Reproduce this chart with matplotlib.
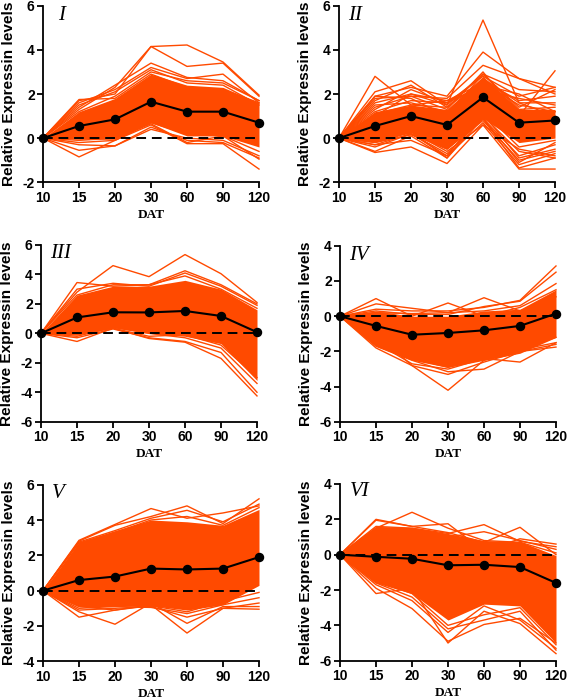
import matplotlib
matplotlib.use("Agg")
import matplotlib.pyplot as plt

dat_labels = ["10", "15", "20", "30", "60", "90", "120"]
orange = "#FF4A00"

# mean profile, dense core limits and the stray lines
mean_1 = [0, 0.55, 0.85, 1.65, 1.2, 1.2, 0.7]
hi_1 = [0, 1.2, 1.8, 2.9, 2.4, 2.3, 1.6]
lo_1 = [0, -0.05, -0.05, 0.7, 0.1, 0.1, -0.4]
lines_1 = [
    [0, 1.3, 2.3, 4.15, 4.22, 3.45, 1.95],
    [0, 1.7, 2.0, 4.15, 3.25, 3.4, 1.9],
    [0, 1.4, 2.4, 3.4, 2.75, 2.6, 1.7],
    [0, 1.6, 2.2, 3.2, 2.7, 2.9, 1.6],
    [0, 1.2, 1.9, 3.0, 2.6, 2.5, 1.7],
    [0, 1.5, 2.1, 3.1, 2.5, 2.4, 1.5],
    [0, 1.75, 1.8, 2.9, 2.3, 2.2, 1.6],
    [0, -0.85, -0.1, 0.6, -0.25, -0.25, -1.4],
    [0, -0.55, -0.35, 0.5, -0.1, -0.2, -0.9],
    [0, -0.3, -0.35, 0.4, 0.0, -0.1, -0.8],
    [0, -0.2, -0.1, 0.7, 0.2, 0.1, -0.6],
    [0, -0.1, 0.0, 0.65, -0.2, 0.1, -0.95],
]

mean_2 = [0, 0.55, 1.0, 0.6, 1.85, 0.7, 0.8]
hi_2 = [0, 1.2, 1.5, 1.3, 2.8, 1.3, 1.3]
lo_2 = [0, -0.2, 0.25, -0.5, 0.9, -0.2, 0.0]
lines_2 = [
    [0, 2.8, 1.5, 1.7, 2.5, 1.5, 1.2],
    [0, 2.1, 2.6, 1.5, 5.35, 1.6, 1.0],
    [0, 1.9, 2.3, 1.9, 3.9, 2.7, 2.0],
    [0, 1.8, 1.9, 1.8, 3.3, 2.7, 2.3],
    [0, 1.6, 2.0, 1.5, 2.9, 2.2, 2.1],
    [0, 1.4, 1.9, 1.3, 3.0, 1.0, 3.05],
    [0, 1.2, 1.7, 1.6, 2.8, 1.9, 2.3],
    [0, 1.5, 1.6, 1.2, 2.7, 1.6, 1.6],
    [0, 1.1, 1.5, 1.4, 2.9, 1.3, 1.4],
    [0, 1.7, 2.4, 1.4, 2.6, 1.7, 1.9],
    [0, 1.3, 2.2, 1.6, 2.4, 2.0, 1.2],
    [0, 1.9, 1.8, 1.0, 2.9, 1.4, 2.2],
    [0, 1.0, 2.0, 1.7, 2.2, 1.8, 1.5],
    [0, -0.65, -0.4, -1.15, 0.6, -1.4, -1.4],
    [0, -0.6, 0.1, -0.9, 0.9, -1.35, -0.9],
    [0, -0.3, -0.1, -0.8, 0.7, -1.2, -0.7],
    [0, -0.4, 0.2, -0.5, 0.8, -1.0, -0.6],
    [0, -0.2, 0.15, -0.4, 0.9, -0.8, -0.3],
    [0, 0.1, 0.3, -0.6, 0.6, -0.5, -0.8],
    [0, 0.2, 0.2, -0.7, 0.9, -1.1, -0.2],
    [0, -0.1, 0.3, -0.9, 1.1, -0.9, -0.5],
    [0, 0.0, 0.4, -0.3, 1.0, -0.6, -0.9],
    [0, -0.3, 0.2, -0.8, 1.2, -0.4, -0.1],
]

mean_3 = [0, 1.08, 1.43, 1.42, 1.52, 1.18, 0.08]
hi_3 = [0, 2.6, 3.2, 3.2, 3.6, 3.0, 1.6]
lo_3 = [0, -0.1, 0.4, 0.0, -0.2, -0.7, -3.2]
lines_3 = [
    [0, 2.8, 4.6, 3.85, 5.35, 4.05, 2.1],
    [0, 3.45, 3.2, 3.3, 4.25, 3.3, 2.0],
    [0, 3.0, 3.4, 3.2, 4.1, 3.2, 1.9],
    [0, 2.6, 3.3, 3.3, 3.9, 3.0, 1.7],
    [0, -0.55, 0.35, -0.35, -0.6, -1.7, -4.25],
    [0, -0.3, 0.3, -0.3, -0.55, -1.3, -4.0],
    [0, -0.2, 0.4, 0.0, -0.3, -1.0, -3.4],
    [0, -0.1, 0.35, -0.2, -0.1, -0.8, -3.0],
]

mean_4 = [0, -0.55, -1.05, -0.95, -0.8, -0.55, 0.15]
hi_4 = [0, 0.3, 0.0, 0.0, 0.3, 0.4, 1.5]
lo_4 = [0, -1.7, -2.5, -2.9, -2.5, -2.1, -1.2]
lines_4 = [
    [0, 1.0, 0.0, 0.75, 0.0, 0.5, 1.5],
    [0, 0.7, 0.45, 0.2, 1.05, 0.3, 1.1],
    [0, 0.4, 0.3, 0.3, 0.5, 0.9, 2.85],
    [0, 0.3, 0.1, 0.1, 0.55, 0.85, 2.5],
    [0, 0.2, 0.15, 0.2, 0.3, 0.6, 1.85],
    [0, -1.0, -2.8, -4.2, -2.5, -1.9, -1.5],
    [0, -1.8, -2.8, -3.3, -2.6, -2.0, -1.75],
    [0, -1.7, -2.5, -3.15, -3.0, -2.0, -1.6],
    [0, -1.5, -2.7, -3.0, -2.4, -2.6, -1.5],
    [0, -1.6, -2.4, -2.9, -2.3, -1.9, -1.2],
]

mean_5 = [0, 0.6, 0.8, 1.25, 1.2, 1.25, 1.9]
hi_5 = [0, 2.75, 3.4, 4.0, 3.9, 3.7, 4.6]
lo_5 = [0, -0.9, -0.9, -0.85, -1.1, -0.8, 0.3]
lines_5 = [
    [0, 2.85, 3.75, 4.65, 4.1, 4.4, 4.8],
    [0, 2.8, 3.7, 4.2, 4.8, 3.8, 5.2],
    [0, 2.75, 3.4, 4.1, 4.55, 3.9, 4.9],
    [0, 2.7, 3.3, 4.0, 4.2, 3.7, 4.7],
    [0, -1.5, -1.1, -0.8, -2.4, -1.0, -1.05],
    [0, -1.2, -1.9, -0.7, -1.85, -0.9, -0.9],
    [0, -1.1, -1.0, -0.9, -1.5, -1.0, -0.7],
    [0, -1.0, -0.9, -0.95, -1.3, -0.8, -0.4],
    [0, -0.9, -1.1, -0.85, -1.2, -0.6, -0.1],
]

mean_6 = [0, -0.12, -0.23, -0.6, -0.57, -0.7, -1.6]
hi_6 = [0, 1.6, 1.55, 1.2, 0.8, 0.75, -0.05]
lo_6 = [0, -1.6, -2.2, -3.7, -2.8, -2.9, -5.0]
lines_6 = [
    [0, 1.5, 2.4, 1.5, 0.8, 0.7, 0.1],
    [0, 2.0, 1.6, 1.25, 0.7, 1.55, 0.0],
    [0, 1.95, 1.6, 1.75, 0.2, 0.9, 0.6],
    [0, 1.6, 1.5, 1.2, 1.7, 0.75, 0.45],
    [0, 1.5, 1.4, 1.0, 1.3, 0.8, 0.3],
    [0, -2.2, -1.9, -5.0, -3.2, -3.9, -5.6],
    [0, -1.9, -3.05, -4.9, -3.95, -3.6, -5.0],
    [0, -1.7, -2.6, -4.4, -2.9, -3.7, -5.3],
    [0, -1.6, -2.4, -4.2, -3.7, -3.2, -5.4],
    [0, -1.5, -2.2, -4.0, -3.4, -3.0, -5.1],
]

W, H = 567, 699
fig = plt.figure(figsize=(W / 100, H / 100), dpi=100)
plt.rcParams['font.family'] = 'Liberation Sans'


def panel(left, right, top, bottom, ymin, ymax, name, name_x, name_y, ylab_x,
          mean, hi, lo, lines):
    ax = fig.add_axes([left / W, 1 - bottom / H, (right - left) / W, (bottom - top) / H])
    x = list(range(7))
    ax.fill_between(x, lo, hi, color=orange, lw=0)
    for ln in lines:
        ax.plot(x, ln, color=orange, lw=1.0, clip_on=False)
    ax.plot([0, 6], [0, 0], color="black", lw=1.4, dashes=(5, 3), zorder=4)
    ax.plot(x, mean, color="black", lw=1.5, marker="o", ms=5.8, clip_on=False, zorder=5)
    ax.set_xlim(0, 6)
    ax.set_ylim(ymin, ymax)
    ax.set_xticks(x)
    ax.set_xticklabels(dat_labels, fontsize=10, fontweight="bold", family="Liberation Sans")
    ax.set_yticks(range(ymin, ymax + 1, 2))
    ax.set_yticklabels([str(v) for v in range(ymin, ymax + 1, 2)], fontsize=10,
                       fontweight="bold", family="Liberation Sans")
    ax.tick_params(length=4, width=1.3, pad=2)
    ax.spines["top"].set_visible(False)
    ax.spines["right"].set_visible(False)
    ax.spines["left"].set_linewidth(1.3)
    ax.spines["bottom"].set_linewidth(1.3)
    ax.set_xlabel("DAT", fontsize=9.5, fontweight="bold", family="Liberation Serif", labelpad=3)
    fig.text(ylab_x / W, 1 - (top + bottom) / 2 / H, "Relative Expressin levels", rotation=90,
             fontsize=11.1, fontweight="bold", ha="center", va="center", family="Liberation Sans")
    fig.text(name_x / W, 1 - name_y / H, name, fontsize=15, style="italic", ha="center",
             va="center", family="Liberation Serif")


panel(43, 259, 5.7, 182.3, -2, 6, "I", 62, 16, 9, mean_1, hi_1, lo_1, lines_1)
panel(339, 555, 5.7, 182.3, -2, 6, "II", 355, 15, 305, mean_2, hi_2, lo_2, lines_2)
panel(41, 257, 245, 421.7, -6, 6, "III", 61, 253, 7, mean_3, hi_3, lo_3, lines_3)
panel(340, 556, 245.7, 422, -6, 4, "IV", 359, 255, 306, mean_4, hi_4, lo_4, lines_4)
panel(43, 259, 484.7, 661.3, -4, 6, "V", 58, 494, 9, mean_5, hi_5, lo_5, lines_5)
panel(340, 556, 484, 660.7, -6, 4, "VI", 360, 492, 306, mean_6, hi_6, lo_6, lines_6)

fig.savefig("out.png", dpi=100)
